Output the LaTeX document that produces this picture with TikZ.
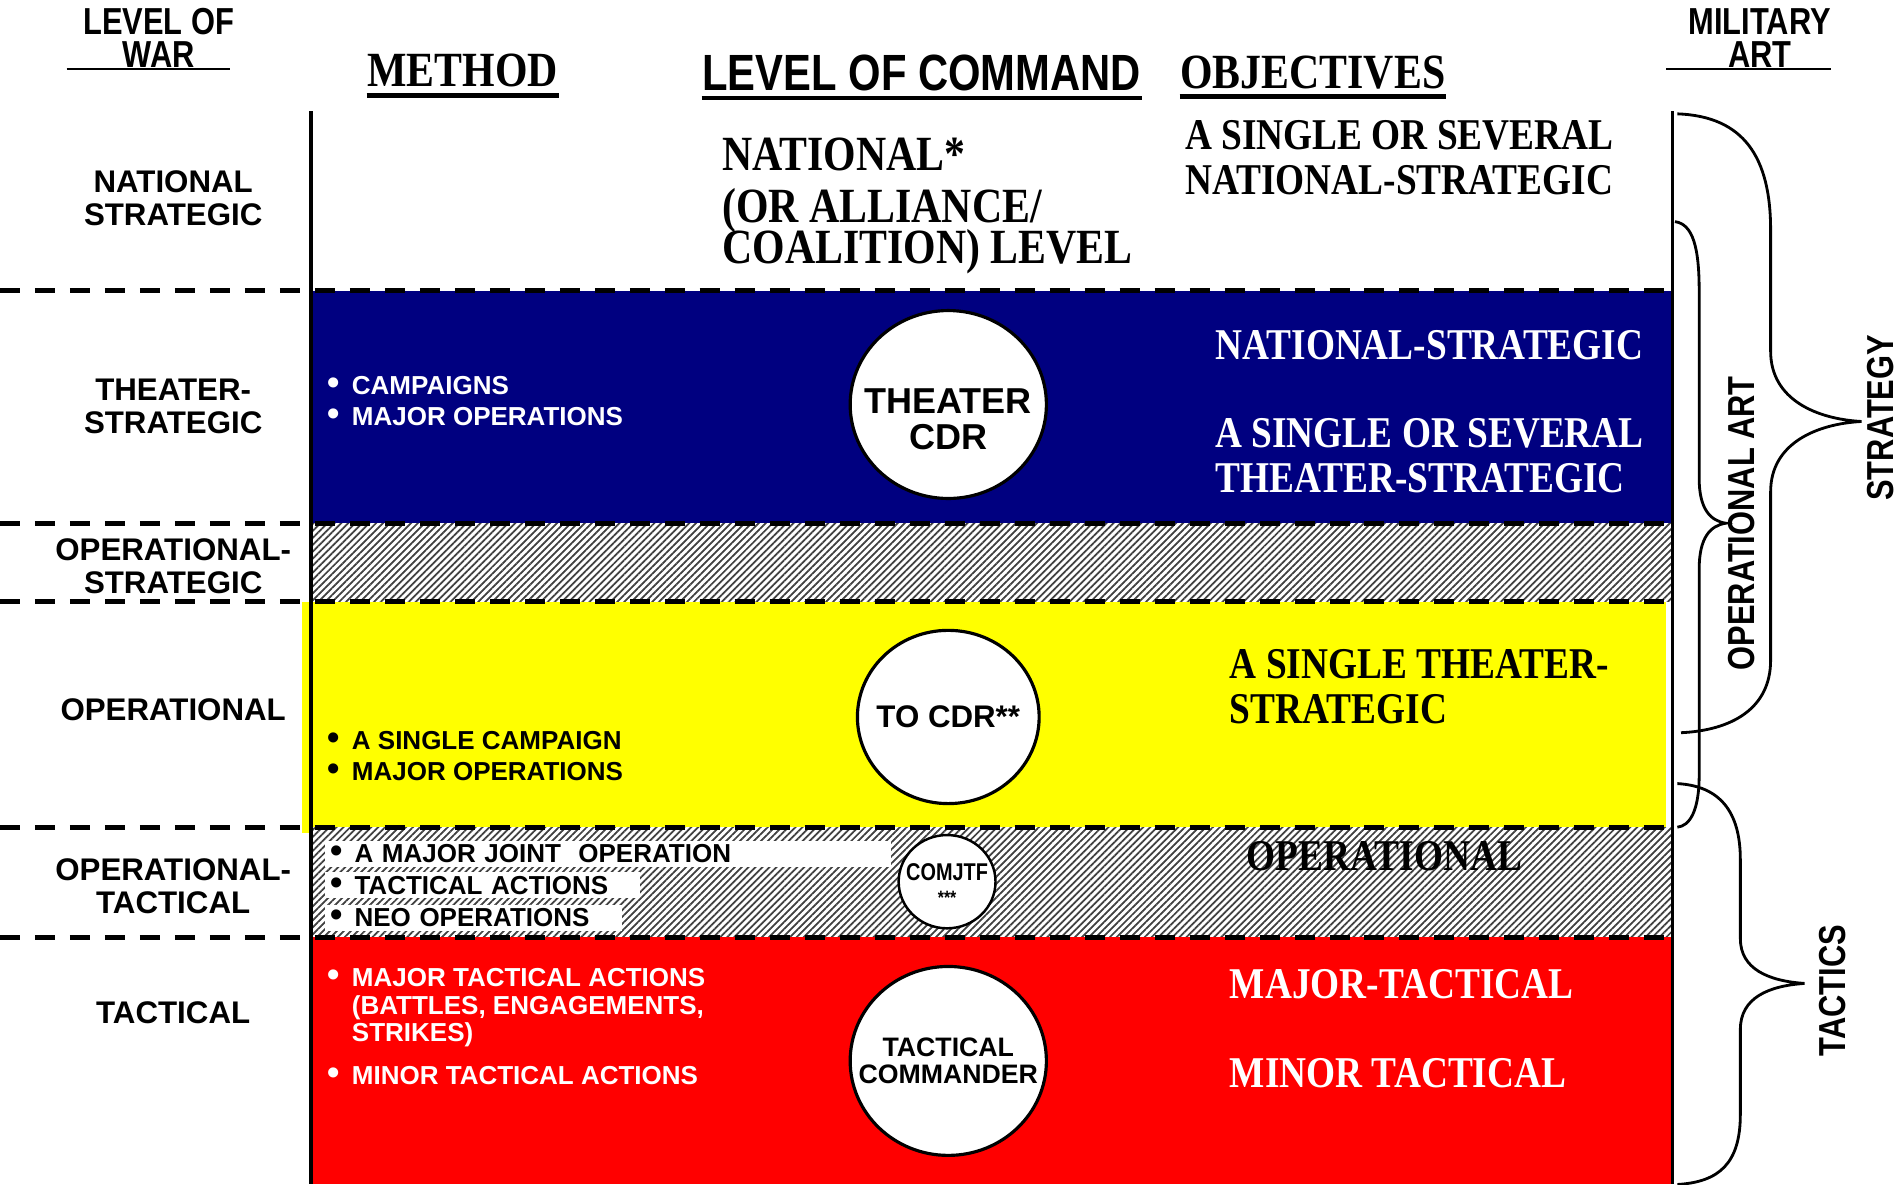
\documentclass[tikz,border=0pt]{standalone}
\usepackage{fontspec}
\setmainfont{Liberation Serif}
\setsansfont{Liberation Sans}
\newfontfamily\narrowsans[FakeStretch=0.82]{Liberation Sans}
\newfontfamily\narrowserif[FakeStretch=0.85]{Liberation Serif}
\usepackage{tikz}
\usetikzlibrary{shapes.geometric,patterns.meta}
\definecolor{navyband}{RGB}{0,0,128}
\definecolor{yellowband}{RGB}{255,255,0}
\definecolor{redband}{RGB}{255,0,0}
\newcommand{\itm}{\makebox[6.9pt][l]{\fontsize{10}{10}\selectfont\textbullet}}

\begin{document}
\begin{tikzpicture}[
  x=0.0121173cm, y=-0.0121173cm,
  every node/.style={inner sep=0pt, align=center},
  lvl/.style={font=\sffamily\bfseries\fontsize{8.9}{9.3}\selectfont},
  hdsans/.style={font=\narrowsans\bfseries\fontsize{10.7}{9.3}\selectfont},
  hdbig/.style={font=\narrowsans\bfseries\fontsize{14.5}{15}\selectfont},
  hdserif/.style={font=\narrowserif\bfseries\fontsize{14}{15}\selectfont},
  cmdtxt/.style={font=\narrowserif\bfseries\fontsize{14}{11.7}\selectfont, align=left},
  obj/.style={font=\narrowserif\bfseries\fontsize{12.5}{12.8}\selectfont, align=left},
  meth/.style={font=\sffamily\bfseries\fontsize{7.4}{8.9}\selectfont, align=left},
  cdr/.style={ellipse, draw, fill=white, line width=0.9pt},
  cdrtxt/.style={font=\sffamily\bfseries\fontsize{#1}{#1}\selectfont},
  hatch/.style={pattern={Lines[angle=45,distance=1.4pt,line width=0.5pt]}, pattern color=black!75},
  sep/.style={line width=1.4pt, dash pattern=on 0.2cm off 0.15cm},
  rule/.style={line width=1pt},
  brace/.style={line width=0.8pt},
  uline/.style={line width=1.3pt}
]
\useasboundingbox (0,0) rectangle (1568,978);

% bands
\fill[navyband] (257,240) rectangle (1381,432);
\fill[white] (257,432) rectangle (1381,497);
\fill[hatch] (257,432) rectangle (1381,497);
\fill[yellowband] (249,497) rectangle (1376,688);
\fill[white] (257,683) rectangle (1381,774);
\fill[hatch] (257,683) rectangle (1381,774);
\fill[redband] (257,774) rectangle (1381,978);

\draw[rule] (257,92) -- (257,978);
\draw[rule] (1381,92) -- (1381,978);
\foreach \yy in {240,432,497,683,774}
  \draw[sep] (0,\yy) -- (1381,\yy);

% headings
\node[hdsans] (lvlwar) at (131,31.5) {LEVEL OF\\WAR};
\node[hdsans] (milart) at (1453,31.5) {MILITARY\\ART};
\node[hdserif] (method) at (382,58) {METHOD};
\node[hdbig] (loc) at (761,60) {LEVEL OF COMMAND};
\node[hdserif] (objs) at (1084,60) {OBJECTIVES};
\draw[line width=0.8pt] (55,57) -- (190,57);
\draw[line width=0.8pt] (1376,57) -- (1512,57);
\draw[uline] ([yshift=-2.6pt]method.base west) -- ([yshift=-2.6pt]method.base east);
\draw[uline] ([yshift=-2.2pt]loc.base west) -- ([yshift=-2.2pt]loc.base east);
\draw[uline] ([yshift=-2.2pt]objs.base west) -- ([yshift=-2.2pt]objs.base east);

% levels of war
\node[lvl] (natstr) at (143,163.5) {NATIONAL\\STRATEGIC};
\node[lvl] (thestr) at (143,335.5) {THEATER-\\STRATEGIC};
\node[lvl] (opstr) at (143,467.5) {OPERATIONAL-\\STRATEGIC};
\node[lvl] (oper) at (143,586) {OPERATIONAL};
\node[lvl] (optac) at (143,731.5) {OPERATIONAL-\\TACTICAL};
\node[lvl] (tac) at (143,836) {TACTICAL};

% methods
\node[meth, anchor=west, text=white] (mthea) at (270,331) {\itm CAMPAIGNS\\\itm MAJOR OPERATIONS};
\node[meth, anchor=west] (mop) at (270,624) {\itm A SINGLE CAMPAIGN\\\itm MAJOR OPERATIONS};
\node[meth, anchor=west, fill=white, inner xsep=0.05cm, text width=5.56cm, minimum height=0.26cm] (mjo) at (268,705) {\itm A MAJOR JOINT\ \ OPERATION};
\node[meth, anchor=west, fill=white, inner xsep=0.05cm, text width=3.05cm, minimum height=0.26cm] (mtact) at (268,731) {\itm TACTICAL ACTIONS};
\node[meth, anchor=west, fill=white, inner xsep=0.05cm, text width=2.87cm, minimum height=0.26cm] (mneo) at (268,758) {\itm NEO OPERATIONS};
\node[meth, anchor=west, text=white, font=\sffamily\bfseries\fontsize{7.4}{7.9}\selectfont] (mmaj) at (270,832) {\itm MAJOR TACTICAL ACTIONS\\\hspace*{6.9pt}(BATTLES, ENGAGEMENTS,\\\hspace*{6.9pt}STRIKES)};
\node[meth, anchor=west, text=white] (mmin) at (270,888) {\itm MINOR TACTICAL ACTIONS};

% level of command
\node[cmdtxt, anchor=west] (natlvl) at (596,170) {NATIONAL*\\[3.1pt](OR ALLIANCE/\\[-2.2pt]COALITION) LEVEL};
\node[cdr, minimum width=1.963cm, minimum height=1.88cm] (thcdr) at (783,334) {};
\node[cdrtxt=10.25] (thcdrlbl) at (783,346) {THEATER\\CDR};
\node[cdr, minimum width=1.818cm, minimum height=1.733cm] (tocdr) at (783,592) {};
\node[cdrtxt=8.9] (tocdrlbl) at (tocdr) {TO CDR**};
\node[cdr, minimum width=0.969cm, minimum height=0.933cm, line width=0.7pt] (comjtf) at (782,728) {};
\node[font=\narrowsans\bfseries\fontsize{6.9}{7}\selectfont] (comjtflbl) at (782,730) {COMJTF\\{\fontsize{5.5}{5}\selectfont ***}};
\node[cdr, minimum width=1.963cm, minimum height=1.89cm] (taccdr) at (783,876) {};
\node[cdrtxt=7.6] (taccdrlbl) at (taccdr) {TACTICAL\\COMMANDER};

% objectives
\node[obj, anchor=west] (obnat) at (978,130.5) {A SINGLE OR SEVERAL\\NATIONAL-STRATEGIC};
\node[obj, anchor=west, text=white] (obns) at (1003,285) {NATIONAL-STRATEGIC};
\node[obj, anchor=west, text=white] (obth) at (1003,376.5) {A SINGLE OR SEVERAL\\THEATER-STRATEGIC};
\node[obj, anchor=west] (obop) at (1015,567) {A SINGLE THEATER-\\STRATEGIC};
\node[obj, anchor=west] (obopt) at (1029,707) {OPERATIONAL};
\node[obj, anchor=west, text=white] (obmaj) at (1015,813) {MAJOR-TACTICAL};
\node[obj, anchor=west, text=white] (obmin) at (1015,886) {MINOR TACTICAL};

% military art braces
\draw[brace] (1385,94) .. controls (1440,96) and (1462,130) .. (1462,190) -- (1462,290)
  .. controls (1462,330) and (1500,346) .. (1537,348)
  .. controls (1500,350) and (1462,366) .. (1462,406) -- (1462,545)
  .. controls (1462,585) and (1430,603) .. (1388,605);
\draw[brace] (1383,183) .. controls (1398,185) and (1403,205) .. (1403,240) -- (1403,395)
  .. controls (1403,420) and (1412,430) .. (1425,432)
  .. controls (1412,434) and (1403,444) .. (1403,470) -- (1403,640)
  .. controls (1403,670) and (1395,682) .. (1385,683);
\draw[brace] (1385,647) .. controls (1420,649) and (1437,670) .. (1437,710) -- (1437,775)
  .. controls (1437,800) and (1460,810) .. (1490,812)
  .. controls (1460,814) and (1437,824) .. (1437,850) -- (1437,920)
  .. controls (1437,960) and (1420,976) .. (1385,978);
\node[hdsans, rotate=90] (strat) at (1553,345) {STRATEGY};
\node[hdsans, rotate=90] (opart) at (1438,432) {OPERATIONAL ART};
\node[hdsans, rotate=90] (tacs) at (1513,818) {TACTICS};
\end{tikzpicture}
\end{document}
